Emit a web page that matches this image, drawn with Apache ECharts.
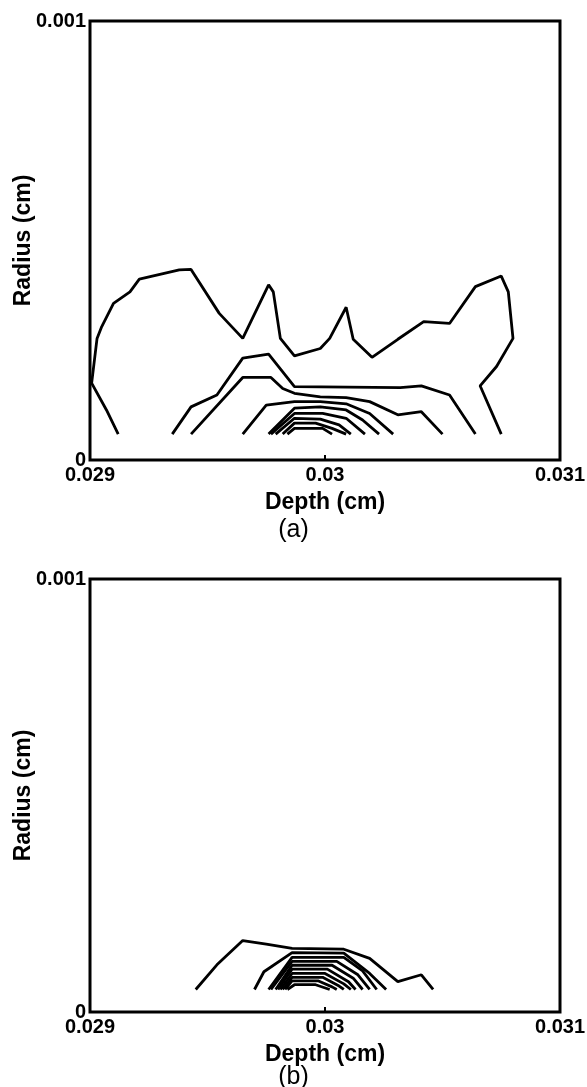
<!DOCTYPE html>
<html>
<head>
<meta charset="utf-8">
<script src="https://cdn.jsdelivr.net/npm/echarts@6/dist/echarts.min.js"></script>
<style>
  html, body { margin: 0; padding: 0; background: #fff; }
  #chart { width: 587px; height: 1087px; }
</style>
</head>
<body>
<div id="chart"></div>
<script>
// tick labels
const depthTicks = ["0.029", "0.03", "0.031"];
const radiusTicks = ["0", "0.001"];
const panelLabels = ["(a)", "(b)"];

// panel (a) contour lines, [depth cm, radius cm]
const a1 = [[0.02912, 0.000059], [0.02907, 0.000114], [0.029007, 0.000175], [0.02903, 0.000277],
  [0.02905, 0.000304], [0.02910, 0.000357], [0.02917, 0.000383], [0.02921, 0.000412],
  [0.02938, 0.000433], [0.02943, 0.000434], [0.02955, 0.000334], [0.02965, 0.000277],
  [0.02976, 0.000399], [0.02978, 0.000383], [0.02981, 0.000277], [0.02987, 0.000237],
  [0.02998, 0.000254], [0.03002, 0.000277], [0.03009, 0.000348], [0.03012, 0.000275],
  [0.03020, 0.000234], [0.03031, 0.000275], [0.03042, 0.000315], [0.03053, 0.000311],
  [0.03064, 0.000395], [0.03075, 0.000419], [0.03078, 0.000383], [0.03080, 0.000277],
  [0.03073, 0.000213], [0.03066, 0.000169], [0.03075, 0.000059]];
const a2 = [[0.02935, 0.000059], [0.02943, 0.000121], [0.02954, 0.000148], [0.02965, 0.000232],
  [0.02976, 0.000241], [0.02987, 0.000167], [0.03032, 0.000165], [0.03041, 0.000169],
  [0.03053, 0.000148], [0.03064, 0.000059]];
const a3 = [[0.02943, 0.000059], [0.02965, 0.000188], [0.02977, 0.000188], [0.02982, 0.000163],
  [0.02987, 0.000152], [0.02998, 0.000144], [0.03009, 0.000142], [0.03019, 0.000133],
  [0.03031, 0.000103], [0.03041, 0.000110], [0.03050, 0.000059]];
const a4 = [[0.02965, 0.000059], [0.02975, 0.000125], [0.02987, 0.000133], [0.02998, 0.000133],
  [0.03009, 0.000128], [0.03019, 0.000106], [0.03029, 0.000059]];
const a5 = [[0.02976, 0.000059], [0.02987, 0.000118], [0.02998, 0.000121], [0.03009, 0.000114],
  [0.03016, 0.000091], [0.03023, 0.000059]];
const a6 = [[0.02977, 0.000059], [0.02987, 0.000106], [0.02999, 0.000106], [0.03009, 0.000095],
  [0.03017, 0.000059]];
const a7 = [[0.02979, 0.000059], [0.02987, 0.000095], [0.02998, 0.000093], [0.03006, 0.000080],
  [0.03011, 0.000059]];
const a8 = [[0.02982, 0.000059], [0.02987, 0.000084], [0.02996, 0.000084], [0.03003, 0.000072],
  [0.03009, 0.000059]];
const a9 = [[0.02984, 0.000059], [0.02987, 0.000072], [0.02999, 0.000072], [0.03003, 0.000059]];

// panel (b) contour lines
const b1 = [[0.02945, 0.000052], [0.02954, 0.000109], [0.02965, 0.000165], [0.02975, 0.000157],
  [0.02986, 0.000147], [0.03008, 0.000145], [0.03019, 0.000124], [0.03031, 0.000070],
  [0.03041, 0.000086], [0.03046, 0.000052]];
const b2 = [[0.02970, 0.000052], [0.02974, 0.000093], [0.02986, 0.000137], [0.03008, 0.000136],
  [0.03019, 0.000089], [0.03026, 0.000052]];
const b3 = [[0.02976, 0.000052], [0.02986, 0.000126], [0.03008, 0.000126], [0.03016, 0.000095], [0.03022, 0.000052]];
const b4 = [[0.02977, 0.000052], [0.02986, 0.000117], [0.03005, 0.000117], [0.03014, 0.000086], [0.03019, 0.000052]];
const b5 = [[0.02979, 0.000052], [0.02986, 0.000108], [0.03003, 0.000108], [0.03012, 0.000078], [0.03016, 0.000052]];
const b6 = [[0.02980, 0.000052], [0.02986, 0.000099], [0.03001, 0.000099], [0.03010, 0.000070], [0.03013, 0.000052]];
const b7 = [[0.02981, 0.000052], [0.02986, 0.000089], [0.03000, 0.000089], [0.03008, 0.000065], [0.03011, 0.000052]];
const b8 = [[0.02982, 0.000052], [0.02986, 0.000080], [0.02999, 0.000080], [0.03006, 0.000060], [0.03008, 0.000052]];
const b9 = [[0.02983, 0.000052], [0.02986, 0.000072], [0.02997, 0.000072], [0.03003, 0.000058], [0.03005, 0.000052]];
const b10 = [[0.02984, 0.000052], [0.02987, 0.000063], [0.02996, 0.000063], [0.03002, 0.000052]];

const contoursA = [a1, a2, a3, a4, a5, a6, a7, a8, a9];
const contoursB = [b1, b2, b3, b4, b5, b6, b7, b8, b9, b10];

const font = "'Liberation Sans', Arial, sans-serif";

const xAxisFor = (gridIndex) => ({
  type: "value",
  gridIndex: gridIndex,
  min: 0.029,
  max: 0.031,
  interval: 0.001,
  name: "Depth (cm)",
  nameLocation: "middle",
  nameGap: 31,
  nameMoveOverlap: false,
  nameTextStyle: { color: "#000", fontSize: 23, fontWeight: "bold", fontFamily: font },
  axisLine: { show: false },
  axisTick: { show: true, inside: true, length: 5, lineStyle: { color: "#000", width: 2 } },
  splitLine: { show: false },
  axisLabel: {
    color: "#000", fontSize: 20, fontWeight: "bold", fontFamily: font, margin: 5,
    showMinLabel: true, showMaxLabel: true,
    formatter: (v, i) => depthTicks[i],
  },
});

const yAxisFor = (gridIndex) => ({
  type: "value",
  gridIndex: gridIndex,
  min: 0,
  max: 0.001,
  interval: 0.001,
  name: "Radius (cm)",
  nameLocation: "middle",
  nameGap: 55,
  nameMoveOverlap: false,
  nameTextStyle: { color: "#000", fontSize: 23, fontWeight: "bold", fontFamily: font },
  axisLine: { show: false },
  axisTick: { show: false },
  splitLine: { show: false },
  axisLabel: {
    color: "#000", fontSize: 20, fontWeight: "bold", fontFamily: font, margin: 4,
    formatter: (v, i) => radiusTicks[i],
  },
});

const toSeries = (lines, idx) => lines.map((pts) => ({
  type: "line",
  xAxisIndex: idx,
  yAxisIndex: idx,
  data: pts,
  showSymbol: false,
  symbol: "none",
  silent: true,
  lineStyle: { color: "#000", width: 2.8 },
}));

const gridBase = {
  left: 90, width: 470, show: true, borderColor: "#000", borderWidth: 3,
  backgroundColor: "transparent", containLabel: false, outerBoundsMode: "none",
};

const chart = echarts.init(document.getElementById("chart"));
chart.setOption({
  backgroundColor: "#fff",
  animation: false,
  title: [
    { text: panelLabels[0], left: "center", top: 513, textStyle: { color: "#000", fontSize: 25, fontWeight: "normal", fontFamily: font } },
    { text: panelLabels[1], left: "center", top: 1060, textStyle: { color: "#000", fontSize: 25, fontWeight: "normal", fontFamily: font } },
  ],
  grid: [
    Object.assign({}, gridBase, { top: 21, height: 439 }),
    Object.assign({}, gridBase, { top: 579, height: 433 }),
  ],
  xAxis: [xAxisFor(0), xAxisFor(1)],
  yAxis: [yAxisFor(0), yAxisFor(1)],
  series: [...toSeries(contoursA, 0), ...toSeries(contoursB, 1)],
});
</script>
</body>
</html>
